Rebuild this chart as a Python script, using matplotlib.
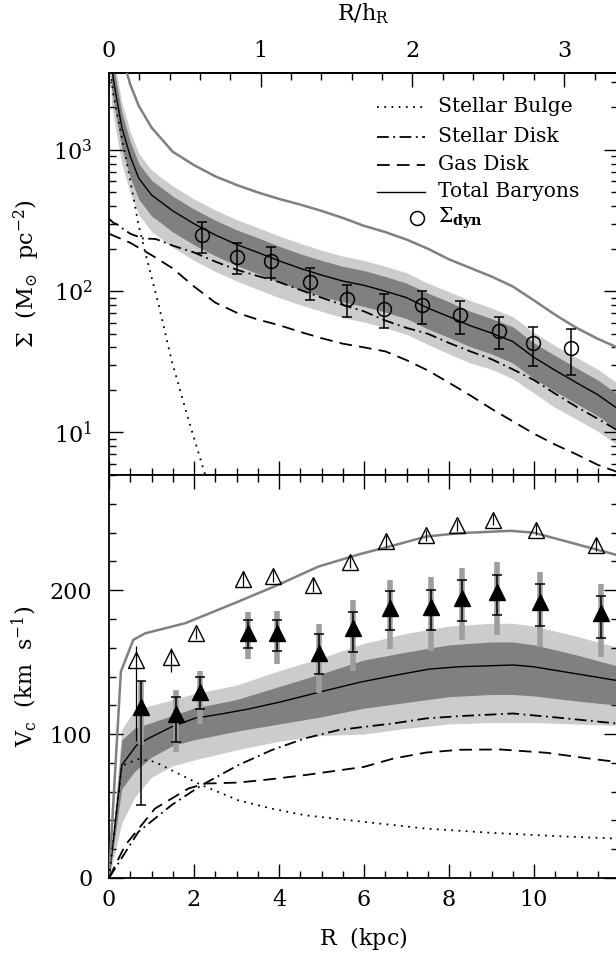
import matplotlib
matplotlib.use("Agg")
import matplotlib.pyplot as plt
from matplotlib.ticker import MultipleLocator, LogLocator, NullFormatter, FixedLocator

plt.rcParams['font.family'] = ['DejaVu Serif']
plt.rcParams['mathtext.fontset'] = 'dejavuserif'
plt.rcParams['font.size'] = 16

# ---------------- data: top panel (surface densities, M_sun/pc^2) ----------------
hR = 3.57  # disk scale length (kpc)

R_tot = [0.05, 0.15, 0.3, 0.5, 0.7, 1.0, 1.5, 2.0, 2.5, 3.0, 3.5, 4.0, 4.5, 5.0, 5.5, 6.0,
         6.5, 7.0, 7.5, 8.0, 8.5, 9.0, 9.5, 10.0, 10.5, 11.0, 11.5, 12.0]
S_tot = [4000, 2600, 1450, 900, 630, 480, 370, 300, 250, 214, 188, 164, 145, 130, 118, 110,
         100, 90, 76, 66, 57, 50.5, 44, 34, 27.5, 22.5, 18.5, 14.5]
S_light_hi = [6000, 3900, 2175, 1350, 945, 720, 555, 450, 375, 321, 282, 246, 218, 195, 177, 165,
              150, 135, 114, 99, 86, 76, 66, 51, 41, 34, 28, 22]
S_dark_hi = [5080, 3300, 1840, 1143, 800, 610, 470, 381, 318, 272, 239, 208, 184, 165, 150, 140,
             127, 114, 97, 84, 72, 64, 56, 43, 35, 28.6, 23.5, 18.4]
S_dark_lo = [2840, 1846, 1030, 639, 447, 341, 263, 213, 178, 152, 133, 116, 103, 92, 84, 78,
             71, 64, 54, 47, 40.5, 36, 31, 24, 19.5, 16, 13.1, 10.3]
S_light_lo = [2200, 1430, 800, 495, 347, 264, 204, 165, 138, 118, 103, 90, 80, 72, 65, 60.5,
              55, 49.5, 42, 36, 31, 28, 24, 19, 15, 12.4, 10.2, 8]

R_sgray = [0.4, 0.5, 0.7, 1.0, 1.5, 2.0, 2.5, 3.0, 3.5, 4.0, 4.5, 5.0, 5.5, 6.0, 6.5, 7.0,
           7.5, 8.0, 8.5, 9.0, 9.5, 10.0, 10.5, 11.0, 11.5, 12.0]
S_gray = [3700, 2900, 2050, 1440, 970, 780, 650, 565, 500, 450, 410, 370, 330, 290, 262, 232,
          200, 168, 146, 127, 108, 86, 68, 55, 46, 39.5]

R_sdisk = [0, 0.1, 0.2, 0.3, 0.5, 0.8, 1.1, 1.5, 2.0, 2.5, 3.0, 3.5, 4.0, 4.5, 5.0, 5.5, 6.0,
           6.5, 7.0, 7.5, 8.0, 8.5, 9.0, 9.5, 10.0, 10.5, 11.0, 11.5, 12.0]
S_sdisk = [326, 305, 296, 280, 255, 236, 234, 210, 188, 162, 142, 128, 116, 102, 90, 80, 72,
           62, 55, 50, 43, 37.5, 33, 28, 23.5, 18.8, 15.2, 12.5, 10.2]

R_sgas = [0, 0.5, 1.0, 1.5, 2.0, 2.5, 3.0, 3.5, 4.0, 4.5, 5.0, 5.5, 6.0, 6.5, 7.0, 7.5, 8.0,
          8.5, 9.0, 9.5, 10.0, 10.5, 11.0, 11.5, 12.0]
S_gas = [255, 220, 180, 145, 108, 83, 70.5, 63, 57.5, 51.5, 46.5, 42.5, 40, 37.5, 32.5, 27.5,
         22.5, 18.3, 14.7, 12, 9.8, 8.2, 7, 5.9, 5.2]

R_sbulge = [0.0, 0.1, 0.3, 0.53, 0.69, 0.85, 1.16, 1.47, 1.87, 2.3]
S_bulge = [4500, 2470, 1227, 545, 300, 189, 82, 32.6, 12.3, 4.6]

R_dyn = [2.18, 3.00, 3.80, 4.73, 5.59, 6.47, 7.36, 8.27, 9.18, 9.98, 10.86]
S_dyn = [248, 175, 164, 116, 88, 74.7, 79.6, 67.7, 52.5, 42.8, 39.4]
S_dyn_hi = [308, 221, 206, 145, 110, 95, 100, 85, 66, 55.5, 53.7]
S_dyn_lo = [187, 132, 123, 87, 66, 55, 59, 50, 38.8, 29.5, 25.5]

# ---------------- data: bottom panel (rotation velocities, km/s) ----------------
R_vtot = [0, 0.3, 0.65, 0.93, 1.47, 2.02, 2.65, 3.28, 4.06, 4.93, 5.9, 6.69, 7.55, 8.26,
          9.51, 9.98, 12.0]
V_tot = [0, 78.4, 92.3, 97, 105, 111, 114, 117.4, 122.5, 129, 136, 140.6, 145.2, 146.8,
         148, 146.8, 137]

R_vband = [0, 0.3, 0.6, 1.0, 1.5, 2.0, 3.0, 4.0, 5.0, 6.0, 7.0, 8.0, 9.0, 9.5, 10.0, 11.0, 12.0]
V_light_hi = [0, 103, 117, 120, 124, 128, 134, 144, 153, 163, 170, 175, 177, 177, 175, 168, 160]
V_dark_hi = [0, 96, 104, 108, 113, 118, 124, 133, 142, 151.5, 157, 162, 164, 164, 162, 155, 147]
V_dark_lo = [0, 62, 74, 84, 92, 96, 102, 107, 112, 118, 122, 126, 127.5, 127.5, 126.5, 123, 120]
V_light_lo = [0, 38, 56, 70, 78, 82, 89, 95, 99, 100, 104, 107, 108, 108, 108, 107, 106]

R_vgray = [0, 0.28, 0.57, 0.85, 1.79, 3.04, 3.98, 4.93, 5.9, 6.69, 7.47, 8.26, 9.44, 9.98,
           10.92, 12.0]
V_gray = [0, 143.4, 165.4, 170, 177, 192, 203.7, 216.4, 225, 231, 237.3, 239.6, 241.2, 240,
          232.6, 224]

R_vdisk = [0, 0.69, 1.47, 2.18, 3.04, 3.83, 4.61, 5.4, 6.0, 6.69, 7.47, 8.26, 9.51, 10.61, 12.0]
V_disk = [0, 32, 50.6, 64.5, 78.4, 88.9, 97, 102.8, 105, 107.4, 110.9, 112.5, 114.3, 111.3, 107.2]

R_vgas = [0, 0.38, 1.08, 1.87, 2.26, 3.04, 3.83, 4.61, 6.0, 6.69, 7.47, 8.26, 9.2, 10.3, 11.4, 12.0]
V_gas = [0, 22.7, 48.2, 62.2, 65.6, 66.3, 68.7, 71.5, 77.2, 83, 87.2, 89.1, 89.3, 87, 82.6, 80.5]

R_vbulge = [0, 0.3, 0.69, 1.08, 1.47, 2.18, 3.04, 3.83, 4.61, 6.0, 7.47, 9.04, 10.61, 12.0]
V_bulge = [0, 78, 82.6, 80.7, 74.9, 64.5, 54, 48.2, 43.6, 39, 34.3, 31.3, 29, 27.3]

R_fill = [0.75, 1.57, 2.14, 3.28, 3.96, 4.93, 5.75, 6.61, 7.57, 8.30, 9.14, 10.14, 11.57]
V_fill = [119, 113.7, 129.4, 170, 170, 156.6, 173.5, 187.9, 188.6, 194.8, 199, 191.6, 183.9]
V_fill_hi = [137, 125.5, 139.4, 179.3, 179.3, 169.6, 184.6, 199.5, 200.2, 206.7, 210.6, 204.1, 196]
V_fill_lo = [50.6, 94.6, 117.1, 159.6, 157.7, 141.7, 157.3, 172.1, 172.1, 178.6, 182.8, 175.2, 166.5]
V_fill_ghi = [137, 130.6, 143.8, 185.1, 185.6, 176.3, 193.2, 207.2, 209.3, 215.2, 219.9, 212.9, 204.4]
V_fill_glo = [92.3, 87.7, 106.7, 152.2, 148.5, 128.3, 143.8, 159.1, 157.8, 165.1, 168.9, 160.8, 153.8]

R_open = [0.635, 1.47, 2.04, 3.16, 3.85, 4.81, 5.66, 6.52, 7.47, 8.18, 9.04, 10.05, 11.47]
V_open = [151.5, 153.8, 170, 207.9, 210, 203.7, 219.4, 233.8, 238, 245, 248.9, 242, 231.5]
V_open_hi = [161, 159.6, 174, 213, 214, 208, 223.5, 238, 242, 249, 253, 246, 236]
V_open_lo = [95, 143.4, 166, 202.5, 206, 199, 215.5, 229.5, 234, 241, 245, 238, 227]

x_major_ticks = [0, 2, 4, 6, 8, 10]
hR_major_ticks = [0, 1, 2, 3]

# ---------------- figure ----------------
W, H = 616, 956
fig = plt.figure(figsize=(W / 100, H / 100), dpi=100)
XMAX = 11.98
x0 = 109
x1 = x0 + XMAX * 42.5
ax1 = fig.add_axes([x0 / W, (H - 475) / H, (x1 - x0) / W, (475 - 73) / H])
ax2 = fig.add_axes([x0 / W, (H - 878) / H, (x1 - x0) / W, (878 - 475) / H])

light, dark, grayc = '0.8', '0.5', '0.5'
ls_dot = (0, (1, 3))
ls_dd = (0, (6.5, 2.5, 1, 2.5))
ls_dash = (0, (7, 4))
lw = 1.3
tick_fs = 16

# top panel
ax1.fill_between(R_tot, S_light_lo, S_light_hi, color=light, lw=0, zorder=1)
ax1.fill_between(R_tot, S_dark_lo, S_dark_hi, color=dark, lw=0, zorder=2)
ax1.plot(R_tot, S_tot, color='k', lw=1.0, zorder=4)
ax1.plot(R_sgray, S_gray, color=grayc, lw=1.8, zorder=4)
ax1.plot(R_sdisk, S_sdisk, color='k', lw=lw, ls=ls_dd, zorder=4)
ax1.plot(R_sgas, S_gas, color='k', lw=lw, ls=ls_dash, zorder=4)
ax1.plot(R_sbulge, S_bulge, color='k', lw=lw, ls=ls_dot, zorder=4)
yerr = [[s - l for s, l in zip(S_dyn, S_dyn_lo)], [h - s for s, h in zip(S_dyn, S_dyn_hi)]]
ax1.errorbar(R_dyn, S_dyn, yerr=yerr, fmt='o', ms=10, mfc='none', mec='k', mew=1.1,
             ecolor='k', elinewidth=1.1, capsize=3.6, capthick=1.1, zorder=6)
ax1.set_yscale('log')
ax1.set_xlim(0, XMAX)
ax1.set_ylim(5, 3500)
ax1.yaxis.set_major_locator(LogLocator(base=10, numticks=10))
ax1.yaxis.set_minor_locator(LogLocator(base=10, subs=range(2, 10), numticks=20))
ax1.yaxis.set_minor_formatter(NullFormatter())
ax1.xaxis.set_major_locator(FixedLocator(x_major_ticks))
ax1.xaxis.set_minor_locator(MultipleLocator(0.5))
ax1.tick_params(axis='x', which='both', labelbottom=False, bottom=True, top=False, direction='in')
ax1.tick_params(axis='y', which='both', left=True, right=True, direction='in', pad=12,
                labelsize=tick_fs)
ax1.set_ylabel(r'$\Sigma\ \ (\mathrm{M}_{\odot}\ \ \mathrm{pc}^{-2})$', labelpad=8, fontsize=16)

sec = ax1.secondary_xaxis('top', functions=(lambda r: r / hR, lambda q: q * hR))
sec.xaxis.set_major_locator(FixedLocator(hR_major_ticks))
sec.xaxis.set_minor_locator(MultipleLocator(0.2))
sec.tick_params(which='both', direction='in', pad=8, labelsize=tick_fs)
sec.tick_params(which='major', length=10, width=1.0)
sec.tick_params(which='minor', length=5, width=1.0)
sec.set_xlabel(r'$\mathrm{R/h_R}$', labelpad=14, fontsize=16)
sec.spines['top'].set_linewidth(1.3)

# legend (manual)
lx0, lx1, tx = (377 - x0) / (x1 - x0), (425 - x0) / (x1 - x0), (438 - x0) / (x1 - x0)
rows = [(475 - yy) / 402 for yy in (106.7, 136.7, 165.0, 191.7, 218.0)]
entries = [('Stellar Bulge', ls_dot), ('Stellar Disk', ls_dd), ('Gas Disk', ls_dash),
           ('Total Baryons', '-')]
leg_fs = 14.6
for (lab, ls), yy in zip(entries, rows):
    ax1.plot([lx0, lx1], [yy, yy], transform=ax1.transAxes, color='k',
             lw=(1.0 if ls == '-' else lw), ls=ls, zorder=7)
    ax1.text(tx, yy, lab, transform=ax1.transAxes, ha='left', va='center', fontsize=leg_fs,
             zorder=7)
ax1.plot([(417 - x0) / (x1 - x0)], [rows[4]], transform=ax1.transAxes, marker='o', ms=10,
         mfc='none', mec='k', mew=1.1, ls='none', zorder=7)
ax1.text(tx, rows[4], r'$\Sigma_{\mathbf{dyn}}$', transform=ax1.transAxes, ha='left',
         va='center', fontsize=leg_fs, zorder=7)

# bottom panel
ax2.fill_between(R_vband, V_light_lo, V_light_hi, color=light, lw=0, zorder=1)
ax2.fill_between(R_vband, V_dark_lo, V_dark_hi, color=dark, lw=0, zorder=2)
ax2.plot(R_vtot, V_tot, color='k', lw=1.0, zorder=4)
ax2.plot(R_vgray, V_gray, color=grayc, lw=1.8, zorder=4)
ax2.plot(R_vdisk, V_disk, color='k', lw=lw, ls=ls_dd, zorder=4)
ax2.plot(R_vgas, V_gas, color='k', lw=lw, ls=ls_dash, zorder=4)
ax2.plot(R_vbulge, V_bulge, color='k', lw=lw, ls=ls_dot, zorder=4)

ax2.vlines(R_fill, V_fill_glo, V_fill_ghi, color='0.62', lw=4, zorder=5)
yerr_f = [[v - l for v, l in zip(V_fill, V_fill_lo)], [h - v for v, h in zip(V_fill, V_fill_hi)]]
ax2.errorbar(R_fill, V_fill, yerr=yerr_f, fmt='^', ms=11, mfc='k', mec='k', ecolor='k',
             elinewidth=1.1, capsize=3.6, capthick=1.1, zorder=6)
yerr_o = [[v - l for v, l in zip(V_open, V_open_lo)], [h - v for v, h in zip(V_open, V_open_hi)]]
ax2.errorbar(R_open, V_open, yerr=yerr_o, fmt='^', ms=11.5, mfc='none', mec='k', mew=1.0,
             ecolor='k', elinewidth=0.9, capsize=0, zorder=6)

ax2.set_xlim(0, XMAX)
ax2.set_ylim(0, 280)
ax2.xaxis.set_major_locator(FixedLocator(x_major_ticks))
ax2.xaxis.set_minor_locator(MultipleLocator(0.5))
ax2.yaxis.set_major_locator(MultipleLocator(100))
ax2.yaxis.set_minor_locator(MultipleLocator(20))
ax2.tick_params(axis='both', which='both', direction='in', top=True, right=True,
                labelsize=tick_fs)
ax2.tick_params(axis='x', pad=8)
ax2.tick_params(axis='y', pad=12)
ax2.set_xlabel(r'$\mathrm{R\ \ (kpc)}$', labelpad=10, fontsize=16)
ax2.set_ylabel(r'$\mathrm{V_c\ \ (km\ \ s^{-1})}$', labelpad=8, fontsize=16)

for ax in (ax1, ax2):
    ax.tick_params(which='major', length=10, width=1.0)
    ax.tick_params(which='minor', length=5, width=1.0)
    for sp in ax.spines.values():
        sp.set_linewidth(1.3)

fig.savefig('out.png', dpi=100)
